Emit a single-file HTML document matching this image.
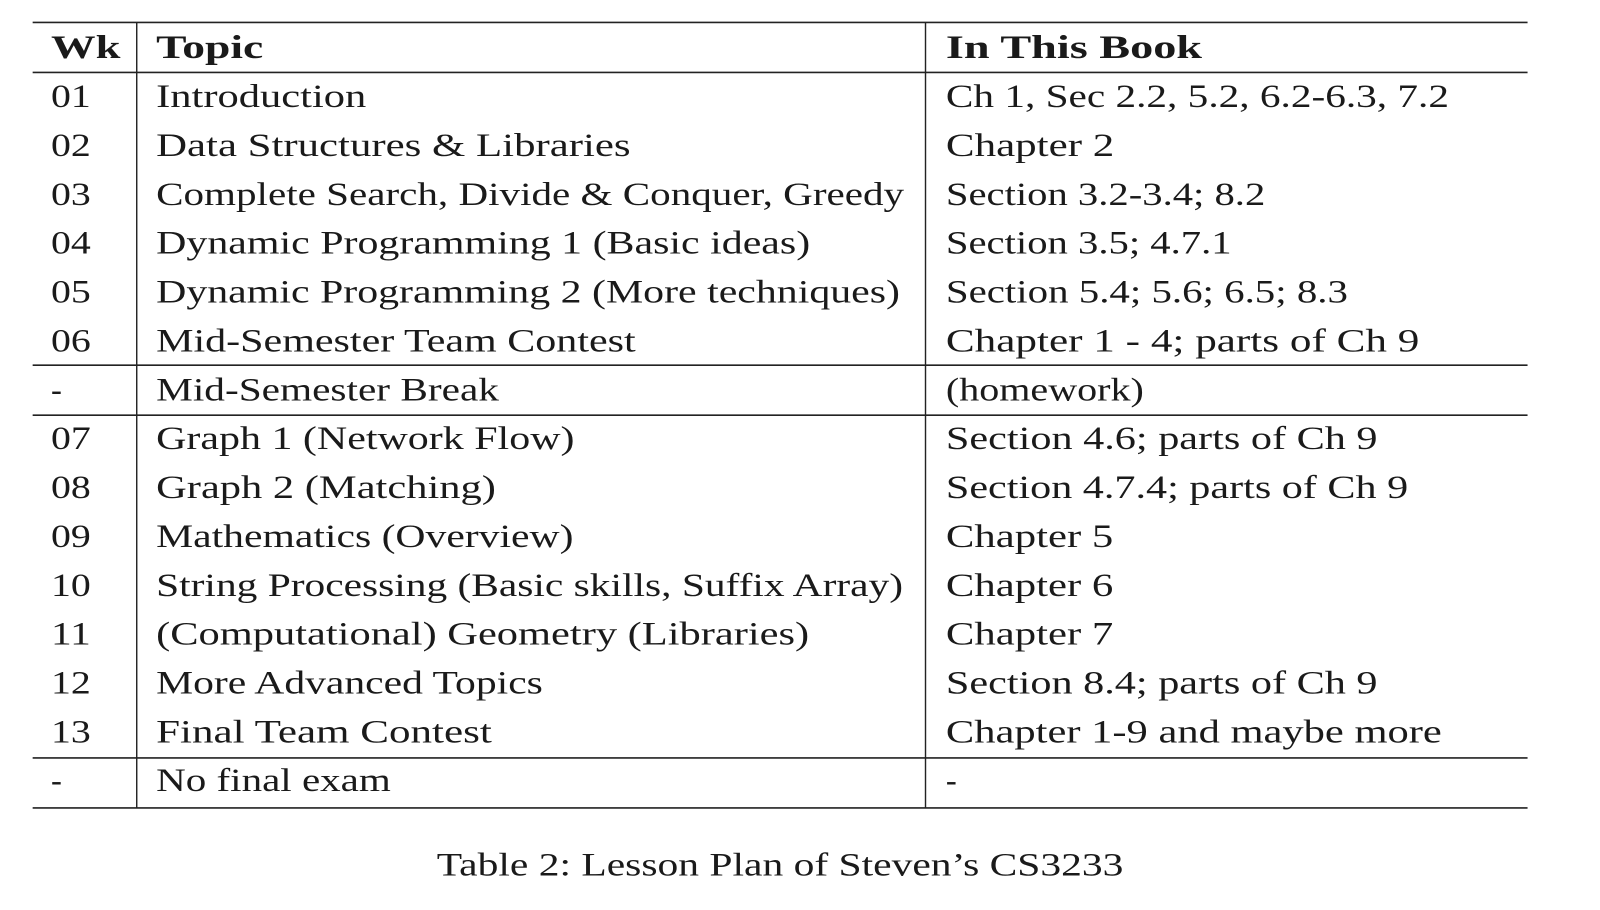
<!DOCTYPE html>
<html><head><meta charset="utf-8"><style>
html,body{margin:0;padding:0;background:#fff;}
svg{display:block;}
text{font-family:"Liberation Serif",serif;fill:#1a1a1a;}
</style></head>
<body>
<svg id="tbl" width="1600" height="910" viewBox="0 0 1568 892" preserveAspectRatio="none" xmlns="http://www.w3.org/2000/svg"></svg>
<script>
const weeks=["01","02","03","04","05","06","-","07","08","09","10","11","12","13","-"];
const topics=["Introduction","Data Structures & Libraries","Complete Search, Divide & Conquer, Greedy","Dynamic Programming 1 (Basic ideas)","Dynamic Programming 2 (More techniques)","Mid-Semester Team Contest","Mid-Semester Break","Graph 1 (Network Flow)","Graph 2 (Matching)","Mathematics (Overview)","String Processing (Basic skills, Suffix Array)","(Computational) Geometry (Libraries)","More Advanced Topics","Final Team Contest","No final exam"];
const topicEnds=[359,618,886,794,882,623,489,563,486,562,885,793,532,482,383];
const books=["Ch 1, Sec 2.2, 5.2, 6.2-6.3, 7.2","Chapter 2","Section 3.2-3.4; 8.2","Section 3.5; 4.7.1","Section 5.4; 5.6; 6.5; 8.3","Chapter 1 - 4; parts of Ch 9","(homework)","Section 4.6; parts of Ch 9","Section 4.7.4; parts of Ch 9","Chapter 5","Chapter 6","Chapter 7","Section 8.4; parts of Ch 9","Chapter 1-9 and maybe more","-"];
const bookEnds=[1420,1092,1240,1207,1321,1391,1121,1350,1380,1091,1091,1091,1350,1413,935];
const hLines=[22,71,358,407,743,792];

const svg=document.getElementById('tbl');
const NS='http://www.w3.org/2000/svg';
function txt(s,x,y,end,bold){
  const t=document.createElementNS(NS,'text');
  t.setAttribute('x',x);t.setAttribute('y',y);
  t.setAttribute('font-size',32);
  if(bold)t.setAttribute('font-weight','bold');
  if(end&&end-x>20){t.setAttribute('textLength',end-x);t.setAttribute('lengthAdjust','spacingAndGlyphs');}
  t.textContent=s;svg.appendChild(t);return t;
}
hLines.forEach((y,i)=>{
  const l=document.createElementNS(NS,'line');
  l.setAttribute('x1',32);l.setAttribute('x2',1497);l.setAttribute('y1',y);l.setAttribute('y2',y);
  l.setAttribute('stroke','#222');l.setAttribute('stroke-width',1.6);
  
  
  svg.appendChild(l);
});
[134,907].forEach(x=>{
  const l=document.createElementNS(NS,'line');
  l.setAttribute('x1',x);l.setAttribute('x2',x);l.setAttribute('y1',22);l.setAttribute('y2',792);
  l.setAttribute('stroke','#222');l.setAttribute('stroke-width',1.4);
  
  
  svg.appendChild(l);
});
let h;
h=txt("Wk",50,57,118,true);


h=txt("Topic",153,57,258,true);


h=txt("In This Book",927,57,1178,true);


weeks.forEach((w,i)=>{
  const y=93+i*47.9+12;
  const a=txt(w,50,y,w==="-"?0:89,false);
  
  
  const b=txt(topics[i],153,y,topicEnds[i],false);
  
  
  const c=txt(books[i],927,y,bookEnds[i],false);
  
  
});
const cap=txt("Table 2: Lesson Plan of Steven\u2019s CS3233",428,858,1101,false);


</script>
</body></html>
